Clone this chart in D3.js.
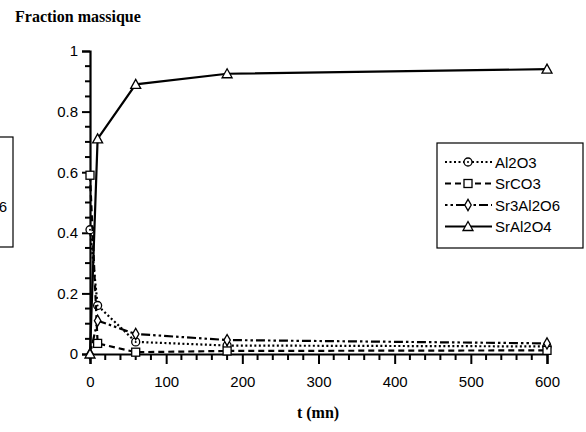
<!DOCTYPE html>
<html><head><meta charset="utf-8">
<script src="https://cdn.jsdelivr.net/npm/d3@7"></script>
<style>body{margin:0;background:#fff}</style>
</head><body>
<svg id="c" width="586" height="432"></svg>
<script>
const times = [0, 10, 60, 180, 600];
const al2o3 = [0.41, 0.16, 0.04, 0.028, 0.025];
const srco3 = [0.59, 0.035, 0.006, 0.01, 0.012];
const sr3al2o6 = [0, 0.11, 0.066, 0.046, 0.035];
const sral2o4 = [0, 0.71, 0.89, 0.925, 0.94];
const seriesNames = ["Al2O3", "SrCO3", "Sr3Al2O6", "SrAl2O4"];
const xTicks = [0, 100, 200, 300, 400, 500, 600];
const yTicks = [0, 0.2, 0.4, 0.6, 0.8, 1];

const svg = d3.select("#c");
const x = d3.scaleLinear().domain([0, 600]).range([90, 547]);
const y = d3.scaleLinear().domain([0, 1]).range([354, 51]);

const series = [
  {name: seriesNames[0], vals: al2o3, dash: "2,2.5", marker: "circle"},
  {name: seriesNames[1], vals: srco3, dash: "6,4", marker: "square"},
  {name: seriesNames[2], vals: sr3al2o6, dash: "2.5,3,2.5,3,9,3", marker: "diamond"},
  {name: seriesNames[3], vals: sral2o4, dash: null, marker: "triangle"}
];

// left cropped legend artifact
svg.append("rect").attr("x", -120).attr("y", 137).attr("width", 133).attr("height", 110)
  .attr("fill", "none").attr("stroke", "#000").attr("stroke-width", 1.2);
svg.append("text").attr("x", 7).attr("y", 212).attr("text-anchor", "end")
  .attr("font-family", "Liberation Sans, Arial, sans-serif").attr("font-size", 15).text("Sr3Al2O6");

// title
svg.append("text").attr("x", 15).attr("y", 22).attr("font-family", "Liberation Serif, Times New Roman, serif")
  .attr("font-weight", "bold").attr("font-size", 16).text("Fraction massique");
svg.append("text").attr("x", 318).attr("y", 418).attr("text-anchor", "middle")
  .attr("font-family", "Liberation Serif, Times New Roman, serif")
  .attr("font-weight", "bold").attr("font-size", 16).text("t (mn)");

// axes
const xAxis = d3.axisBottom(x).tickValues(xTicks).tickSize(10).tickPadding(12).tickFormat(d3.format("d"));
const gx = svg.append("g").attr("transform", `translate(0,${y(0)})`).call(xAxis);
const yAxis = d3.axisLeft(y).tickValues(yTicks).tickSize(8).tickPadding(4).tickFormat(d => d === 0 || d === 1 ? d3.format("d")(d) : d3.format(".1f")(d));
const gy = svg.append("g").attr("transform", `translate(${x(0)},0)`).call(yAxis);
[gx, gy].forEach(g => {
  g.select(".domain").attr("stroke-width", 2.2);
  g.selectAll(".tick line").attr("stroke-width", 2);
  g.selectAll("text").attr("font-family", "Liberation Sans, Arial, sans-serif").attr("font-size", 15).attr("fill", "#000");
});
// minor ticks
const xMinor = d3.range(0, 601, 20).filter(v => v % 100 !== 0);
svg.append("g").selectAll("line").data(xMinor).join("line")
  .attr("x1", d => x(d)).attr("x2", d => x(d)).attr("y1", y(0)).attr("y2", y(0) + 6)
  .attr("stroke", "#000").attr("stroke-width", 2);
const yMinor = d3.range(0, 1.001, 0.05).filter(v => Math.abs(v * 5 - Math.round(v * 5)) > 1e-6);
svg.append("g").selectAll("line").data(yMinor).join("line")
  .attr("x1", x(0) - 5).attr("x2", x(0)).attr("y1", d => y(d)).attr("y2", d => y(d))
  .attr("stroke", "#000").attr("stroke-width", 2);

function drawMarker(g, type, cx, cy) {
  if (type === "circle") {
    g.append("circle").attr("cx", cx).attr("cy", cy).attr("r", 4).attr("fill", "#fff").attr("stroke", "#000").attr("stroke-width", 1.3);
    g.append("circle").attr("cx", cx).attr("cy", cy).attr("r", 1).attr("fill", "#000");
  } else if (type === "square") {
    g.append("rect").attr("x", cx - 4).attr("y", cy - 4).attr("width", 8).attr("height", 8).attr("fill", "#fff").attr("stroke", "#000").attr("stroke-width", 1.3);
  } else if (type === "diamond") {
    g.append("path").attr("d", d3.symbol(d3.symbolDiamond, 36)()).attr("transform", `translate(${cx},${cy})`).attr("fill", "#fff").attr("stroke", "#000").attr("stroke-width", 1.3);
  } else {
    g.append("path").attr("d", `M${cx},${cy - 5}L${cx + 5},${cy + 4}L${cx - 5},${cy + 4}Z`).attr("fill", "#fff").attr("stroke", "#000").attr("stroke-width", 1.3);
  }
}

const line = d3.line().x(d => x(d[0])).y(d => y(d[1]));
series.forEach(s => {
  const pts = times.map((t, i) => [t, s.vals[i]]);
  const g = svg.append("g");
  g.append("path").attr("d", line(pts)).attr("fill", "none").attr("stroke", "#000")
    .attr("stroke-width", 2.2).attr("stroke-dasharray", s.dash);
  pts.forEach(p => drawMarker(g, s.marker, x(p[0]), y(p[1])));
});

// legend
const lg = svg.append("g");
lg.append("rect").attr("x", 437).attr("y", 143).attr("width", 146).attr("height", 105)
  .attr("fill", "#fff").attr("stroke", "#000").attr("stroke-width", 1.2);
series.forEach((s, i) => {
  const yy = 162 + i * 21.5;
  lg.append("line").attr("x1", 445).attr("x2", 492).attr("y1", yy).attr("y2", yy)
    .attr("stroke", "#000").attr("stroke-width", 2).attr("stroke-dasharray", s.dash);
  drawMarker(lg, s.marker, 468, yy);
  lg.append("text").attr("x", 495).attr("y", yy + 5.5).attr("font-family", "Liberation Sans, Arial, sans-serif")
    .attr("font-size", 15).text(s.name);
});
</script>
</body></html>
